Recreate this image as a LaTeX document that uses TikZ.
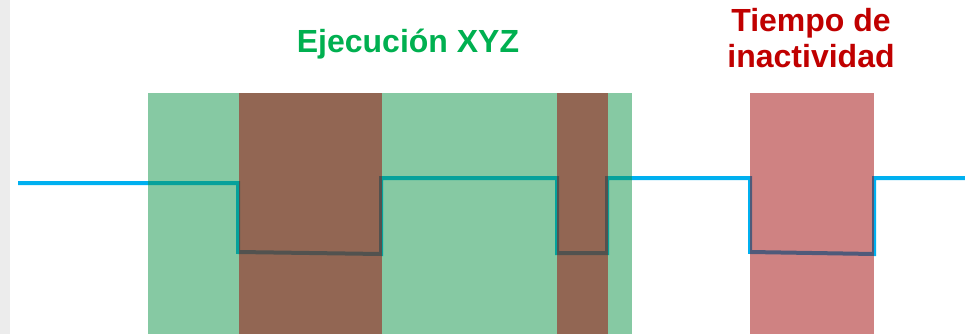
\documentclass[tikz,border=0pt]{standalone}
\usepackage{fontspec}
\setmainfont{Liberation Sans}
\definecolor{senal}{RGB}{0,176,240}
\definecolor{verdexyz}{RGB}{13,147,71}
\definecolor{rojoinac}{RGB}{159,5,5}
\definecolor{textoverde}{RGB}{0,176,80}
\definecolor{textorojo}{RGB}{192,0,0}
\definecolor{margen}{RGB}{236,236,236}
\tikzset{
  senal/.style={draw=senal, line width=4pt, line join=miter},
  franja/.style={fill=#1, fill opacity=0.5, draw=none},
  titulo/.style={font=\fontsize{32}{36}\selectfont\bfseries, inner sep=0pt, anchor=base, align=center}
}
\begin{document}
\begin{tikzpicture}[x=1pt, y=-1pt]
\useasboundingbox (0,0) rectangle (965,334);
\fill[margen] (0,0) rectangle (10,334);
% la senal
\coordinate (s0) at (18,183);
\coordinate (s1) at (238,183);
\coordinate (s2) at (238,252);
\coordinate (s3) at (381,254);
\coordinate (s4) at (381,178);
\coordinate (s5) at (557,178);
\coordinate (s6) at (557,253);
\coordinate (s7) at (607,253);
\coordinate (s8) at (607,178);
\coordinate (s9) at (750,178);
\coordinate (s10) at (750,252);
\coordinate (s11) at (874,254);
\coordinate (s12) at (874,178);
\coordinate (s13) at (965,178);
\draw[senal] (s0)--(s1)--(s2)--(s3)--(s4)--(s5)--(s6)--(s7)--(s8)--(s9)--(s10)--(s11)--(s12)--(s13);
% franjas
\path[franja=verdexyz] (148,93) rectangle (632,334);
\foreach \a/\b in {239/382, 557/608, 750/874}
{
\path[franja=rojoinac] (\a,93) rectangle (\b,334);
}
\node[titulo, text=textoverde] (ejec) at (408,53) {Ejecución XYZ};
\node[titulo, text=textorojo] (inac) at (811,68) {Tiempo de\\inactividad};
\end{tikzpicture}
\end{document}
